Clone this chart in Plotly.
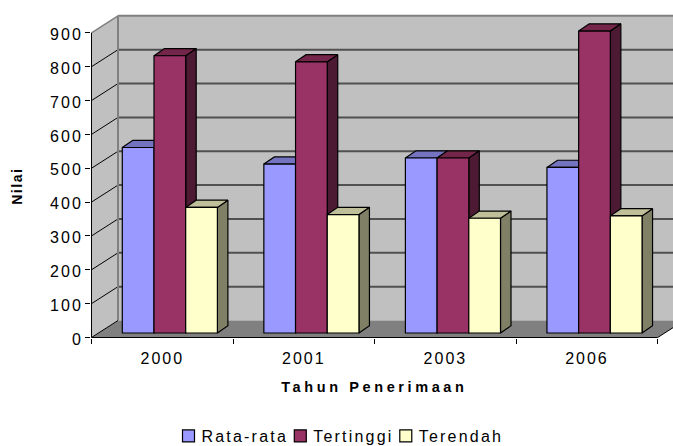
import plotly.graph_objects as go

# Chart data
years = ["2000", "2001", "2003", "2006"]
series_names = ["Rata-rata", "Tertinggi", "Terendah"]
rata_rata = [548, 499, 517, 489]
tertinggi = [819, 801, 517, 892]
terendah = [371, 350, 339, 346]
y_ticks = [0, 100, 200, 300, 400, 500, 600, 700, 800, 900]

# Pixel scale of the plot, used to express the oblique depth in data units
W, H = 673, 446
LEFT, BOTTOM = 91, 108
CAT_PX = 141.55
VAL_PX = 0.3385
X0 = -0.5 / CAT_PX
Y0 = -0.5 / VAL_PX


def dx(px):
    return px / CAT_PX


def dy(px):
    return px / VAL_PX


WALL_DX, WALL_DY = dx(26.5), dy(17)
BAR_DX, BAR_DY = dx(10.5), dy(7.2)
BASE_DX, BASE_DY = dx(7), dy(4.5)
BAR_W = dx(31.7)
GROUP_START = dx(23.8)

FRONT = ["#9999ff", "#993366", "#ffffcc"]
TOP = ["#7373bf", "#732649", "#bfbf99"]
SIDE = ["#4d4d80", "#4d1a33", "#808066"]
WALL = "#c0c0c0"
FLOOR = "#808080"
GRID = "#505050"
FONT = "Liberation Sans, Arial, sans-serif"

fig = go.Figure()


def poly(xs, ys, fill=None, line=None, width=1, z=0):
    fig.add_trace(go.Scatter(
        x=xs, y=ys, mode="lines", fill="toself" if fill else "none",
        fillcolor=fill, line=dict(color=line or "rgba(0,0,0,0)", width=width),
        showlegend=False, hoverinfo="skip", zorder=z,
    ))


n = len(years)
top = y_ticks[-1]

# Back wall, side wall and floor of the box
poly([WALL_DX, n + WALL_DX, n + WALL_DX, WALL_DX, WALL_DX],
     [WALL_DY, WALL_DY, top + WALL_DY, top + WALL_DY, WALL_DY], fill=WALL, z=-5)
poly([0, WALL_DX, WALL_DX, 0, 0],
     [0, WALL_DY, top + WALL_DY, top, 0], fill=WALL, z=-5)
poly([0, n, n + WALL_DX, WALL_DX, 0],
     [0, 0, WALL_DY, WALL_DY, 0], fill=FLOOR, z=-5)

# Gridlines run along the side wall and across the back wall
for t in y_ticks[1:-1]:
    poly([0, WALL_DX], [t, t + WALL_DY], line="#000000", width=1, z=-4)
    poly([WALL_DX, n + WALL_DX], [t + WALL_DY, t + WALL_DY], line=GRID, width=2, z=-4)
poly([0, WALL_DX], [top, top + WALL_DY], line="#808080", width=1.5, z=-4)
poly([WALL_DX, WALL_DX], [WALL_DY, top + WALL_DY], line="#808080", width=2, z=-4)
poly([WALL_DX, n + WALL_DX], [top + WALL_DY, top + WALL_DY], line="#808080", width=2, z=-4)
poly([n, n + WALL_DX], [0, WALL_DY], line="#000000", width=1, z=-4)
poly([0, WALL_DX], [0, WALL_DY], line="#000000", width=1, z=-4)

# Bars: the front faces are real bars, the top and side faces are offset polygons
for s, values in enumerate([rata_rata, tertinggi, terendah]):
    z = s * 2
    lefts = [i + BASE_DX + GROUP_START + s * BAR_W for i in range(n)]
    for xl, v in zip(lefts, values):
        xr = xl + BAR_W
        yb, yt = BASE_DY, BASE_DY + v
        poly([xr, xr + BAR_DX, xr + BAR_DX, xr, xr],
             [yb, yb + BAR_DY, yt + BAR_DY, yt, yb],
             fill=SIDE[s], line="#000000", width=1.2, z=z)
        poly([xl, xr, xr + BAR_DX, xl + BAR_DX, xl],
             [yt, yt, yt + BAR_DY, yt + BAR_DY, yt],
             fill=TOP[s], line="#000000", width=1.2, z=z)
    fig.add_trace(go.Bar(
        x=[xl + BAR_W / 2 for xl in lefts], y=values, base=BASE_DY, width=BAR_W,
        name=series_names[s], marker=dict(color=FRONT[s], line=dict(color="#000000", width=1.2)),
        zorder=z + 1,
    ))

# Axis lines stop at the end of the box
poly([0, 0], [0, top], line="#000000", width=1, z=20)
poly([0, n], [0, 0], line="#000000", width=1, z=20)

fig.update_layout(
    width=W, height=H,
    margin=dict(l=LEFT, r=0, t=0, b=BOTTOM, pad=0),
    paper_bgcolor="white", plot_bgcolor="white",
    barmode="overlay",
    font=dict(family=FONT, color="#000000", size=16),
    xaxis=dict(
        range=[X0, (W - LEFT - 0.5) / CAT_PX],
        tickvals=[i + 0.5 for i in range(n)], ticktext=years,
        ticks="", showgrid=False, zeroline=False, showline=False,
        tickfont=dict(size=16), ticklabelstandoff=9,
        minor=dict(tickvals=list(range(n + 1)), ticks="outside", ticklen=5,
                   tickcolor="#000000", tickwidth=1, showgrid=False),
    ),
    yaxis=dict(
        range=[Y0, (H - BOTTOM + 0.5 - 1) / VAL_PX],
        tickvals=y_ticks, ticks="outside", ticklen=5, tickcolor="#000000", tickwidth=1,
        showgrid=False, zeroline=False, showline=False, tickfont=dict(size=16),
    ),
    legend=dict(
        orientation="h", xref="container", yref="container",
        x=168.5 / W, xanchor="left", y=(H - 436) / H, yanchor="middle",
        font=dict(size=16), bgcolor="rgba(0,0,0,0)", traceorder="normal",
    ),
    annotations=[
        dict(text="<b>Tahun Penerimaan</b>", xref="x", yref="paper", x=n / 2,
             y=(H - BOTTOM - 387) / (H - BOTTOM), showarrow=False,
             xanchor="center", yanchor="middle", font=dict(size=14.5)),
        dict(text="<b>Nilai</b>", xref="paper", yref="paper",
             x=(17 - LEFT) / (W - LEFT), y=(H - BOTTOM - 186) / (H - BOTTOM),
             showarrow=False, textangle=-90, xanchor="center", yanchor="middle",
             font=dict(size=14)),
    ],
)

# Widely tracked chart text, with legend labels pulled closer to their swatches
css = (
    "svg text{letter-spacing:2px}"
    ".annotation[data-index='0'] text{letter-spacing:3.6px}"
    ".annotation[data-index='1'] text{letter-spacing:1.5px}"
    ".legendtext{letter-spacing:2.2px;transform:translateX(-7px)}"
    ".legend .scrollbox{clip-path:none}"
    "g.ytick{transform:translate(1px,1.5px)}"
)
post = (
    "var s=document.createElement('style');s.textContent=" + repr(css) + ";"
    "document.head.appendChild(s);"
)
fig.write_html("out.html", post_script=post, config={"displayModeBar": False})
